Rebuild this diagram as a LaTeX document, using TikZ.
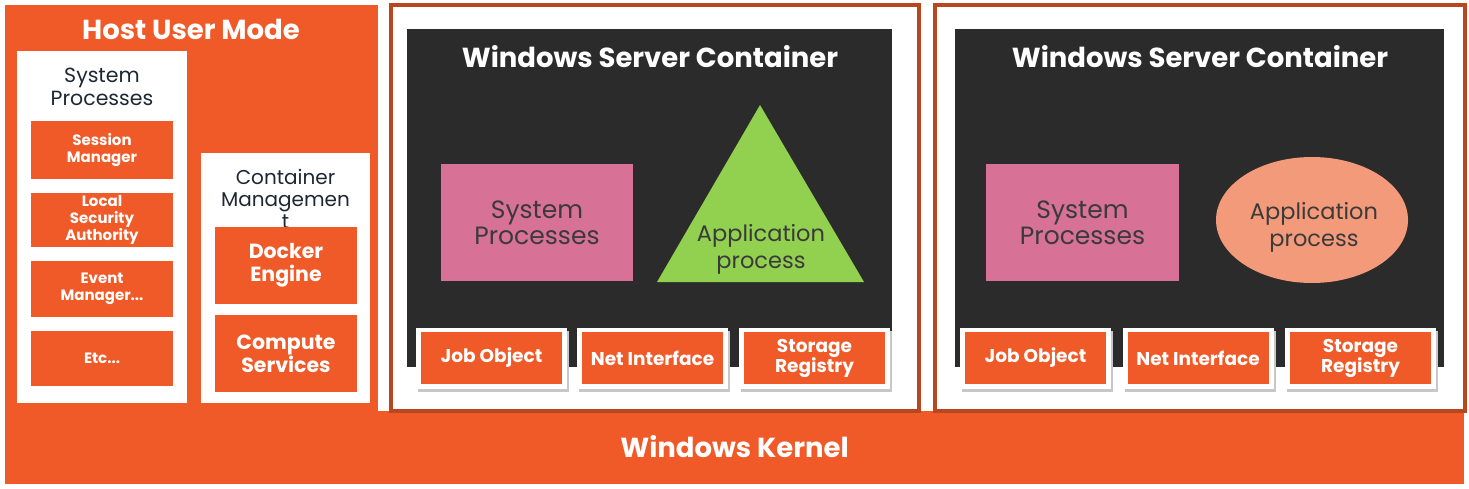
\documentclass[tikz,border=0pt]{standalone}
\usepackage{fontspec}
\setmainfont{Poppins}
\usetikzlibrary{shapes.geometric}
\definecolor{hostorange}{HTML}{F05A28}
\definecolor{frameorange}{HTML}{B8461F}
\definecolor{panelgray}{HTML}{2B2B2B}
\definecolor{procpink}{HTML}{D77196}
\definecolor{appgreen}{HTML}{92D050}
\definecolor{appsalmon}{HTML}{F39A7B}
\definecolor{darktext}{HTML}{3A3A3A}
\definecolor{navytext}{HTML}{1E2833}
\tikzset{
  orangebox/.style={fill=hostorange, text=white, font=\bfseries\fontsize{15}{17}\selectfont,
    align=center, inner sep=0pt},
  bigbox/.style={orangebox, font=\bfseries\fontsize{20.5}{23}\selectfont},
  whitebox/.style={fill=white, inner sep=0pt},
  card/.style={fill=white, inner sep=0pt, minimum width=151, minimum height=61},
  cardshadow/.style={fill=black!22, inner sep=0pt, minimum width=151, minimum height=61},
  cardlabel/.style={orangebox, minimum width=141, minimum height=52, font=\bfseries\fontsize{18.5}{20}\selectfont},
  title/.style={text=white, font=\fontsize{27.5}{30}\selectfont\bfseries},
  proctext/.style={text=darktext, align=center, font=\fontsize{25}{26}\selectfont},
  apptext/.style={text=darktext, align=center, font=\fontsize{22.5}{27}\selectfont},
}
\begin{document}
\begin{tikzpicture}[x=1pt, y=-1pt]
    \useasboundingbox (0,0) rectangle (1469,488);
    \fill[white] (0,0) rectangle (1469,488);

    % host user mode
    \fill[hostorange] (5,5) rectangle (378,411);
    \node[title] (hosttitle) at (191,29) {Host User Mode};

    \node[whitebox, minimum width=170, minimum height=352] (sysbox) at (102,227) {};
    \node[text=navytext, align=center, font=\fontsize{20.5}{23}\selectfont] (systitle) at (102,87) {System\\Processes};
    \node[orangebox, minimum width=142, minimum height=58] (session) at (102,150) {Session\\Manager};
    \node[orangebox, minimum width=142, minimum height=54] (lsa) at (102,220) {Local\\Security\\Authority};
    \node[orangebox, minimum width=142, minimum height=56] (event) at (102,289) {Event\\Manager...};
    \node[orangebox, minimum width=142, minimum height=55] (etc) at (102,358.5) {Etc...};

    \node[whitebox, minimum width=169, minimum height=250] (cmbox) at (285.5,278) {};
    \node[text=navytext, align=center, font=\fontsize{20}{22}\selectfont, anchor=north] (cmtitle) at (285.5,166) {Container\\Managemen\\t};
    \node[bigbox, minimum width=142, minimum height=77] (docker) at (286,265.5) {Docker\\Engine};
    \node[bigbox, minimum width=142, minimum height=77] (compute) at (286,353.5) {Compute\\Services};

    % windows kernel
    \fill[hostorange] (5,411) rectangle (1464,484);
    \node[title] (kernel) at (734.5,447) {Windows Kernel};

    % container one
    \draw[frameorange, line width=4, fill=white] (391,5) rectangle (919,411);
    \fill[panelgray] (407,29) rectangle (892,367);
    \node[title] (wsc1) at (650,57) {Windows Server Container};
    \node[fill=procpink, minimum width=192, minimum height=117, proctext] (sp1) at (537,222.5) {System\\Processes};
    \fill[appgreen] (760,105) -- (864,282) -- (657,282) -- cycle;
    \node[apptext] (app1) at (761,249) {Application\\process};
    \foreach \x/\lbl/\name in {491.5/Job Object/job1, 652.5/Net Interface/net1, 814.5/Storage\\Registry/store1}{
        \node[cardshadow] at (\x+2,361) {};
        \node[card] at (\x,358.5) {};
        \node[cardlabel] (\name) at (\x,358) {\lbl};
    }

    % container two
    \draw[frameorange, line width=4, fill=white] (935,5) rectangle (1465,411);
    \fill[panelgray] (955,29) rectangle (1444,367);
    \node[title] (wsc2) at (1200,57) {Windows Server Container};
    \node[fill=procpink, minimum width=193, minimum height=117, proctext] (sp2) at (1082.5,222.5) {System\\Processes};
    \node[ellipse, fill=appsalmon, minimum width=192, minimum height=126, inner sep=0pt] (app2) at (1312,220) {};
    \node[apptext] (app2text) at (1314,227) {Application\\process};
    \foreach \x/\lbl/\name in {1035.5/Job Object/job2, 1198/Net Interface/net2, 1360.5/Storage\\Registry/store2}{
        \node[cardshadow] at (\x+2,361) {};
        \node[card] at (\x,358.5) {};
        \node[cardlabel] (\name) at (\x,358) {\lbl};
    }
\end{tikzpicture}
\end{document}
